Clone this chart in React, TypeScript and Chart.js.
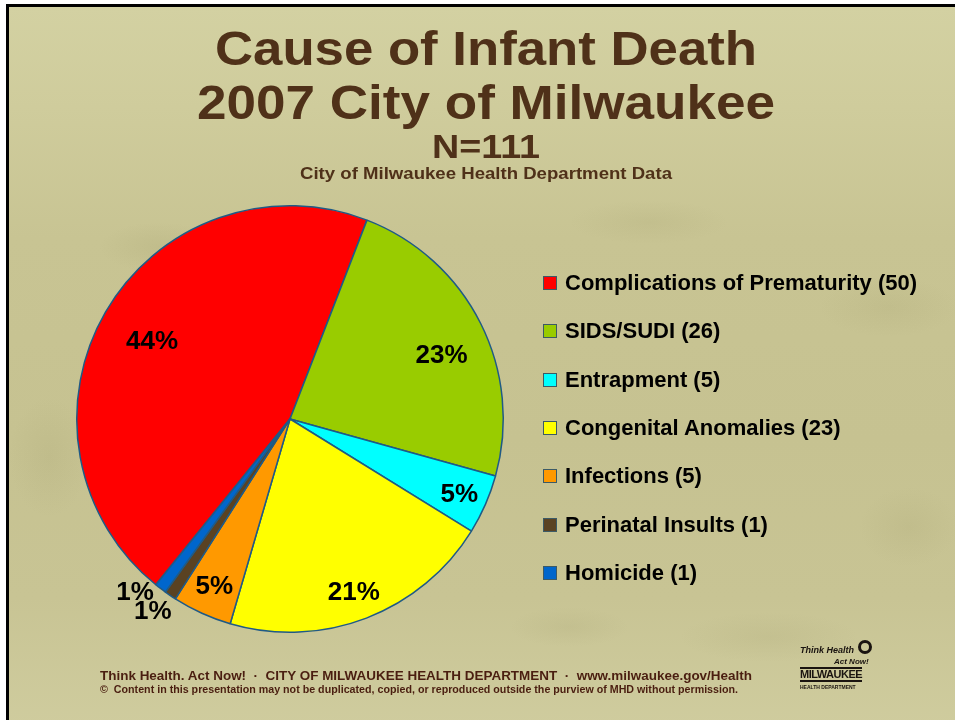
import React, { useEffect, useLayoutEffect, useRef } from "react";
import { Chart, registerables } from "chart.js";

Chart.register(...registerables);

// ---------- data ----------
const categories = [
  "Complications of Prematurity",
  "SIDS/SUDI",
  "Entrapment",
  "Congenital Anomalies",
  "Infections",
  "Perinatal Insults",
  "Homicide",
];
const counts = [50, 26, 5, 23, 5, 1, 1];
const percentLabels = ["44%", "23%", "5%", "21%", "5%", "1%", "1%"];

const titleLines = ["Cause of Infant Death", "2007 City of Milwaukee"];
const nLabel = "N=111";
const subtitle = "City of Milwaukee Health Department Data";
const footerLine1 =
  "Think Health. Act Now!  \u00B7  CITY OF MILWAUKEE HEALTH DEPARTMENT  \u00B7  www.milwaukee.gov/Health";
const footerLine2 =
  "\u00A9  Content in this presentation may not be duplicated, copied, or reproduced outside the purview of MHD without permission.";

// ---------- style ----------
const sliceColors = ["#FF0000", "#99CC00", "#00FFFF", "#FFFF00", "#FF9900", "#5A4222", "#0066CC"];
const labelRadiusFrac = [0.74, 0.77, 0.87, 0.87, 0.865, 1.11, 1.09];
const labelAngleOffsetDeg = [-1, 4, 0.6, 0.9, -0.2, 1.3, 4.4];
const FONT = "'Liberation Sans', Arial, Helvetica, sans-serif";
const TITLE_COLOR = "#4F3119";

type FitProps = {
  text: string;
  size: number;
  top: number;
  left?: number;
  center?: number;
  width: number;
  color: string;
  weight?: string | number;
  italic?: boolean;
};

function FitText({ text, size, top, left, center, width, color, weight = "bold", italic }: FitProps) {
  const ref = useRef<HTMLSpanElement>(null);
  useLayoutEffect(() => {
    const el = ref.current;
    if (!el) return;
    el.style.transform = "none";
    const w = el.getBoundingClientRect().width;
    if (w > 0) el.style.transform = `scaleX(${width / w})`;
  }, [text, size, width]);
  const x = left !== undefined ? left : (center as number) - width / 2;
  return (
    <span
      ref={ref}
      style={{
        position: "absolute",
        left: x,
        top,
        fontFamily: FONT,
        fontSize: size,
        lineHeight: `${size}px`,
        fontWeight: weight as any,
        fontStyle: italic ? "italic" : "normal",
        color,
        whiteSpace: "pre",
        transformOrigin: "left top",
        display: "inline-block",
      }}
    >
      {text}
    </span>
  );
}

const pieLabelPlugin = {
  id: "pieLabels",
  afterDatasetsDraw(chart: any) {
    const meta = chart.getDatasetMeta(0);
    const ctx = chart.ctx;
    ctx.save();
    ctx.font = `bold 26px ${FONT}`;
    ctx.fillStyle = "#000000";
    ctx.textAlign = "center";
    ctx.textBaseline = "middle";
    meta.data.forEach((arc: any, i: number) => {
      const p = arc.getProps(["x", "y", "startAngle", "endAngle", "outerRadius"], true);
      const mid = (p.startAngle + p.endAngle) / 2 + (labelAngleOffsetDeg[i] * Math.PI) / 180;
      const r = p.outerRadius * labelRadiusFrac[i];
      ctx.fillText(percentLabels[i], p.x + Math.cos(mid) * r, p.y + Math.sin(mid) * r);
    });
    ctx.restore();
  },
};

export default function App() {
  const canvasRef = useRef<HTMLCanvasElement>(null);

  useEffect(() => {
    if (!canvasRef.current) return;
    const chart = new Chart(canvasRef.current, {
      type: "pie",
      data: {
        labels: categories,
        datasets: [
          {
            data: counts,
            backgroundColor: sliceColors,
            borderColor: "#1F5A86",
            borderWidth: 1.5,
          },
        ],
      },
      options: {
        animation: false,
        responsive: false,
        rotation: 219,
        layout: { padding: { left: 76, right: 451, top: 205, bottom: 87 } },
        plugins: {
          legend: { display: false },
          tooltip: { enabled: false },
          title: { display: false },
        },
      },
      plugins: [pieLabelPlugin],
    });
    return () => chart.destroy();
  }, []);

  const blot = (x: number, y: number, w: number, h: number, a: number) =>
    `radial-gradient(ellipse ${w}px ${h}px at ${x}px ${y}px, rgba(140,135,85,${a}), rgba(140,135,85,0))`;
  const bg =
    [
      blot(150, 240, 60, 25, 0.12),
      blot(640, 215, 80, 22, 0.1),
      blot(880, 300, 70, 30, 0.1),
      blot(760, 630, 90, 25, 0.1),
      blot(40, 450, 40, 60, 0.1),
      blot(560, 620, 60, 20, 0.1),
      blot(900, 520, 50, 40, 0.1),
    ].join(",") +
    ",linear-gradient(to bottom, #d3d1a2 0%, #cfcc9c 14%, #c8c493 32%, #c6c291 60%, #c8c494 82%, #cfcc9e 100%)";

  return (
    <div style={{ position: "fixed", left: 0, top: 0, width: 955, height: 720, background: "#ffffff", overflow: "hidden" }}>
      <div
        style={{
          position: "absolute",
          left: 6,
          top: 4,
          width: 955,
          height: 720,
          background: bg,
          borderTop: "3px solid #000000",
          borderLeft: "3px solid #000000",
        }}
      />
      <canvas
        ref={canvasRef}
        width={955}
        height={720}
        style={{ position: "absolute", left: 0, top: 0, width: 955, height: 720 }}
      />

      {/* Title */}
      <FitText text={titleLines[0]} size={48} top={25} center={486} width={542} color={TITLE_COLOR} />
      <FitText text={titleLines[1]} size={49} top={78} center={486} width={578} color={TITLE_COLOR} />
      <FitText text={nLabel} size={34} top={129} center={486} width={108} color={TITLE_COLOR} />
      <FitText text={subtitle} size={17} top={165} center={486} width={372} color={TITLE_COLOR} />

      {/* Legend */}
      {categories.map((c, i) => (
        <div
          key={c}
          style={{
            position: "absolute",
            left: 543,
            top: 283 + i * 48.3 - 13,
            height: 26,
            display: "flex",
            alignItems: "center",
            whiteSpace: "nowrap",
          }}
        >
          <span
            style={{
              display: "inline-block",
              width: 12,
              height: 12,
              background: sliceColors[i],
              border: "1px solid #3C5A66",
              marginRight: 8,
            }}
          />
          <span style={{ fontFamily: FONT, fontWeight: "bold", fontSize: 22, color: "#000000", lineHeight: "26px" }}>
            {`${c} (${counts[i]})`}
          </span>
        </div>
      ))}

      {/* Footer */}
      <FitText text={footerLine1} size={13} top={669} left={100} width={652} color="#4A1E10" />
      <FitText text={footerLine2} size={10} top={685} left={100} width={638} color="#4A1E10" />

      {/* Logo (approximation) */}
      <div style={{ position: "absolute", left: 800, top: 640, width: 76, height: 54, color: "#1a1410", fontFamily: FONT }}>
        <div style={{ position: "absolute", left: 58, top: 0, width: 14, height: 14, borderRadius: 7, border: "3px solid #1a1410", boxSizing: "border-box" }} />
        <div style={{ position: "absolute", left: 0, top: 5, fontSize: 9, fontWeight: "bold", fontStyle: "italic", whiteSpace: "nowrap" }}>Think Health</div>
        <div style={{ position: "absolute", left: 34, top: 17, fontSize: 8, fontWeight: "bold", fontStyle: "italic", whiteSpace: "nowrap" }}>Act Now!</div>
        <div style={{ position: "absolute", left: 0, top: 27, fontSize: 11, fontWeight: "bold", letterSpacing: -0.5, whiteSpace: "nowrap", borderTop: "2px solid #1a1410", borderBottom: "2px solid #1a1410", lineHeight: "11px" }}>MILWAUKEE</div>
        <div style={{ position: "absolute", left: 0, top: 44, fontSize: 5, fontWeight: "bold", whiteSpace: "nowrap" }}>HEALTH DEPARTMENT</div>
      </div>
    </div>
  );
}
